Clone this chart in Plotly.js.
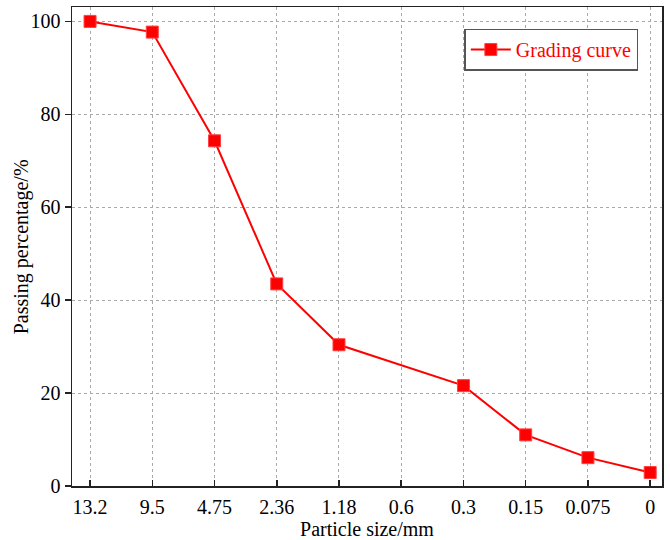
<!DOCTYPE html>
<html><head><meta charset="utf-8">
<script src="https://cdn.plot.ly/plotly-3.0.1.min.js"></script>
<style>body{margin:0;background:#fff}#c{width:670px;height:540px}</style>
</head><body><div id="c"></div>
<script>
const sizes = ['13.2','9.5','4.75','2.36','1.18','0.6','0.3','0.15','0.075','0'];
const passing = [100, 97.7, 74.3, 43.5, 30.4, null, 21.6, 11.0, 6.1, 2.9];
const seriesName = 'Grading curve';
const yTicks = [0,20,40,60,80,100];

const font = {family:'"Liberation Serif","Times New Roman",serif', size:20, color:'#000'};
Plotly.newPlot('c', [{
  x: sizes, y: passing, name: seriesName, type:'scatter', mode:'lines+markers',
  connectgaps:true,
  line:{color:'#ff0000', width:2},
  marker:{symbol:'square', size:12, color:'#ff0000', line:{color:'#ff4040', width:1}}
}], {
  width:670, height:540,
  margin:{l:72, r:8, t:7, b:54},
  paper_bgcolor:'#fff', plot_bgcolor:'#fff',
  font: font,
  showlegend:true,
  legend:{x:0.665, y:0.955, xanchor:'left', yanchor:'top', bordercolor:'#555', borderwidth:1.5,
    bgcolor:'#fff', font:{family:font.family, size:20, color:'#ff0000'}, itemwidth:40,
    tracegroupgap:0},
  annotations:[{text:'Passing percentage/%', xref:'paper', yref:'paper', x:-0.085, y:0.5,
    xanchor:'center', yanchor:'middle', textangle:-90, showarrow:false,
    font:{family:font.family, size:20, color:'#000'}}],
  xaxis:{type:'category', range:[-0.29, 9.19], tickvals:sizes, ticktext:sizes,
    showline:true, linecolor:'#222', linewidth:1.5, mirror:true,
    ticks:'inside', ticklen:6, tickcolor:'#222', tickwidth:1.5,
    ticklabelstandoff:2,
    showgrid:true, gridcolor:'#aaa', griddash:'3px,3px', gridwidth:1,
    zeroline:false, automargin:false,
    title:{text:'Particle size/mm', font:{family:font.family, size:20}, standoff:2}},
  yaxis:{range:[0,103.1], tickvals:yTicks, ticktext:yTicks.map(String),
    showline:true, linecolor:'#222', linewidth:1.5, mirror:true,
    ticks:'outside', ticklen:6, tickcolor:'#222', tickwidth:1.5,
    showgrid:true, gridcolor:'#aaa', griddash:'3px,3px', gridwidth:1,
    zeroline:false, automargin:false}
}, {staticPlot:true});
</script></body></html>
